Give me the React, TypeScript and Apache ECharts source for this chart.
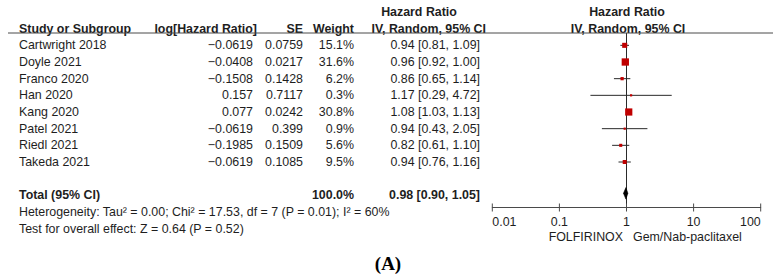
import React, { useEffect, useRef } from 'react';
import * as echarts from 'echarts';

const studies = ['Cartwright 2018', 'Doyle 2021', 'Franco 2020', 'Han 2020', 'Kang 2020', 'Patel 2021', 'Riedl 2021', 'Takeda 2021'];
const logHR = [-0.0619, -0.0408, -0.1508, 0.157, 0.077, -0.0619, -0.1985, -0.0619];
const seVals = ['0.0759', '0.0217', '0.1428', '0.7117', '0.0242', '0.399', '0.1509', '0.1085'];
const weights = [15.1, 31.6, 6.2, 0.3, 30.8, 0.9, 5.6, 9.5];
const hr = [0.94, 0.96, 0.86, 1.17, 1.08, 0.94, 0.82, 0.94];
const lo = [0.81, 0.92, 0.65, 0.29, 1.03, 0.43, 0.61, 0.76];
const hi = [1.09, 1.0, 1.14, 4.72, 1.13, 2.05, 1.1, 1.16];
const totalEst = [0.98, 0.9, 1.05]; // hr, lo, hi
const totalWeight = '100.0%';
const tickValues = [0.01, 0.1, 1, 10, 100];
const tickLabels = ['0.01', '0.1', '1', '10', '100'];
const heterogeneity = 'Heterogeneity: Tau² = 0.00; Chi² = 17.53, df = 7 (P = 0.01); I² = 60%';
const overallEffect = 'Test for overall effect: Z = 0.64 (P = 0.52)';
const favoursLeft = 'FOLFIRINOX';
const favoursRight = 'Gem/Nab-paclitaxel';

const Y_MIN = -0.74;
const Y_MAX = 9.73;
const TOTAL_ROW = 9;
const FONT = '"Liberation Sans", Arial, sans-serif';
const FS = 12.4;
const TXT = '#1e1e1e';

const fmtMinus = (v: number) => String(v).replace('-', '\u2212');
const f2 = (v: number) => v.toFixed(2);

type Cell = { x: number; row: number; text: string; align: 'left' | 'right' | 'center'; bold?: boolean };

function buildCells(): Cell[] {
  const cells: Cell[] = [];
  cells.push({ x: 419, row: -2, text: 'Hazard Ratio', align: 'center', bold: true });
  cells.push({ x: 627, row: -2, text: 'Hazard Ratio', align: 'center', bold: true });
  cells.push({ x: 19, row: -1, text: 'Study or Subgroup', align: 'left', bold: true });
  cells.push({ x: 257, row: -1, text: 'log[Hazard Ratio]', align: 'right', bold: true });
  cells.push({ x: 303, row: -1, text: 'SE', align: 'right', bold: true });
  cells.push({ x: 354, row: -1, text: 'Weight', align: 'right', bold: true });
  cells.push({ x: 486, row: -1, text: 'IV, Random, 95% CI', align: 'right', bold: true });
  cells.push({ x: 628, row: -1, text: 'IV, Random, 95% CI', align: 'center', bold: true });
  studies.forEach((s, i) => {
    cells.push({ x: 19, row: i, text: s, align: 'left' });
    cells.push({ x: 253, row: i, text: fmtMinus(logHR[i]), align: 'right' });
    cells.push({ x: 303, row: i, text: seVals[i], align: 'right' });
    cells.push({ x: 354, row: i, text: weights[i].toFixed(1) + '%', align: 'right' });
    cells.push({ x: 480, row: i, text: `${f2(hr[i])} [${f2(lo[i])}, ${f2(hi[i])}]`, align: 'right' });
  });
  cells.push({ x: 19, row: TOTAL_ROW, text: 'Total (95% CI)', align: 'left', bold: true });
  cells.push({ x: 354, row: TOTAL_ROW, text: totalWeight, align: 'right', bold: true });
  cells.push({ x: 480, row: TOTAL_ROW, text: `${f2(totalEst[0])} [${f2(totalEst[1])}, ${f2(totalEst[2])}]`, align: 'right', bold: true });
  cells.push({ x: 19, row: 10, text: heterogeneity, align: 'left' });
  cells.push({ x: 19, row: 11, text: overallEffect, align: 'left' });
  cells.push({ x: 623, row: 11.48, text: favoursLeft, align: 'right' });
  cells.push({ x: 633, row: 11.48, text: favoursRight, align: 'left' });
  return cells;
}

export default function App() {
  const ref = useRef<HTMLDivElement>(null);
  useEffect(() => {
    document.body.style.margin = '0';
    if (!ref.current) return;
    const chart = echarts.init(ref.current, null, { renderer: 'svg' });
    const cells = buildCells();
    const forestData = studies.map((_, i) => ({ value: [hr[i], i] }));

    const option: any = {
      animation: false,
      backgroundColor: '#ffffff',
      grid: [
        { left: 492.3, right: 18.3, top: 33, height: 174.5 },
        { left: 0, right: 0, top: 33, height: 174.5 },
      ],
      xAxis: [
        {
          type: 'log',
          logBase: 10,
          min: 0.01,
          max: 100,
          gridIndex: 0,
          axisLine: { onZero: false, lineStyle: { color: '#4a4a4a', width: 1 } },
          axisTick: { show: false },
          splitLine: { show: false },
          minorTick: { show: false },
          axisLabel: {
            margin: 8,
            color: TXT,
            fontSize: FS,
            fontFamily: FONT,
            alignMinLabel: 'left',
            alignMaxLabel: 'right',
            formatter: (v: number) => {
              const idx = tickValues.findIndex((t) => Math.abs(Math.log10(t) - Math.log10(v)) < 1e-6);
              return idx >= 0 ? tickLabels[idx] : '';
            },
          },
        },
        { type: 'value', min: 0, max: 779, gridIndex: 1, show: false, axisLine: { onZero: false } },
      ],
      yAxis: [
        { type: 'value', min: Y_MIN, max: Y_MAX, inverse: true, gridIndex: 0, show: false, axisLine: { onZero: false } },
        { type: 'value', min: Y_MIN, max: Y_MAX, inverse: true, gridIndex: 1, show: false, axisLine: { onZero: false } },
      ],
      series: [
        {
          // reference line at HR = 1 and double-sided axis ticks
          type: 'custom',
          xAxisIndex: 0,
          yAxisIndex: 0,
          z: 1,
          silent: true,
          clip: false,
          data: [{ value: [1, 0] }],
          renderItem: (params: any, api: any) => {
            const top = api.coord([1, Y_MIN]);
            const bot = api.coord([1, Y_MAX]);
            const children: any[] = [
              { type: 'line', shape: { x1: top[0], y1: top[1], x2: bot[0], y2: bot[1] }, style: { stroke: '#2a2a2a', lineWidth: 1 } },
            ];
            tickValues.forEach((t) => {
              const p = api.coord([t, Y_MAX]);
              children.push({ type: 'line', shape: { x1: p[0], y1: p[1] - 4, x2: p[0], y2: p[1] + 4 }, style: { stroke: '#4a4a4a', lineWidth: 1 } });
            });
            return { type: 'group', children };
          },
        },
        {
          type: 'custom',
          xAxisIndex: 0,
          yAxisIndex: 0,
          z: 3,
          clip: false,
          silent: true,
          data: forestData,
          renderItem: (params: any, api: any) => {
            const i = params.dataIndex;
            const pl = api.coord([lo[i], i]);
            const ph = api.coord([hi[i], i]);
            const pe = api.coord([hr[i], i]);
            const s = Math.max(2.2, 1.3 * Math.sqrt(weights[i]));
            return {
              type: 'group',
              children: [
                { type: 'line', shape: { x1: pl[0], y1: pl[1], x2: ph[0], y2: ph[1] }, style: { stroke: '#2a2a2a', lineWidth: 1 } },
                { type: 'rect', shape: { x: pe[0] - s / 2, y: pe[1] - s / 2, width: s, height: s }, style: { fill: '#c00000' } },
              ],
            };
          },
        },
        {
          type: 'custom',
          xAxisIndex: 0,
          yAxisIndex: 0,
          z: 3,
          clip: false,
          silent: true,
          data: [{ value: [totalEst[0], TOTAL_ROW] }],
          renderItem: (params: any, api: any) => {
            const pl = api.coord([totalEst[1], TOTAL_ROW]);
            const ph = api.coord([totalEst[2], TOTAL_ROW]);
            const pe = api.coord([totalEst[0], TOTAL_ROW]);
            const dy = -2;
            return {
              type: 'polygon',
              shape: { points: [[pl[0], pl[1] + dy], [pe[0], pe[1] - 5.8 + dy], [ph[0], ph[1] + dy], [pe[0], pe[1] + 5.8 + dy]] },
              style: { fill: '#000000', stroke: '#000000', lineWidth: 0.5 },
            };
          },
        },
        {
          type: 'custom',
          xAxisIndex: 1,
          yAxisIndex: 1,
          z: 4,
          clip: false,
          silent: true,
          data: cells.map((c) => ({ value: [c.x, c.row] })),
          renderItem: (params: any, api: any) => {
            const c = cells[params.dataIndex];
            const p = api.coord([c.x, c.row]);
            return {
              type: 'text',
              x: p[0],
              y: p[1],
              style: {
                text: c.text,
                fill: TXT,
                font: `${c.bold ? 'bold ' : ''}${FS}px ${FONT}`,
                textAlign: c.align,
                textVerticalAlign: 'middle',
              },
            };
          },
        },
      ],
      graphic: [
        { type: 'line', shape: { x1: 8, y1: 33, x2: 773, y2: 33 }, style: { stroke: '#4a4a4a', lineWidth: 1 }, z: 5 },
        {
          type: 'text',
          x: 388,
          y: 263.5,
          style: { text: '(A)', font: 'bold 19px "Liberation Serif", "Times New Roman", serif', fill: '#000', textAlign: 'center', textVerticalAlign: 'middle' },
        },
      ],
    };
    chart.setOption(option);
    return () => chart.dispose();
  }, []);
  return <div ref={ref} style={{ width: 779, height: 277 }} />;
}
